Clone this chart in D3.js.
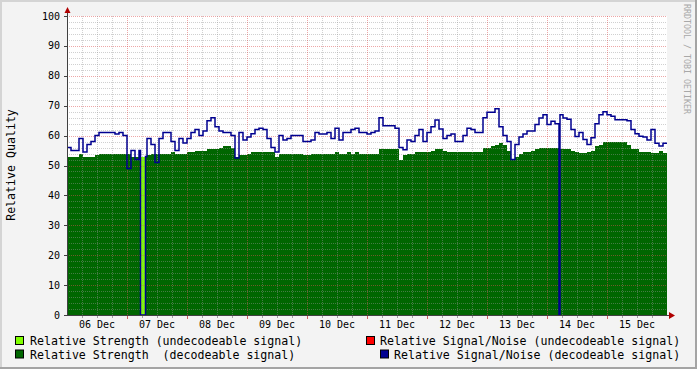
<!DOCTYPE html>
<html>
<head>
<meta charset="utf-8">
<script src="https://cdn.jsdelivr.net/npm/d3@7"></script>
<style>
  html, body { margin: 0; padding: 0; background: #f3f3f3; }
  svg text { font-family: "DejaVu Sans Mono", monospace; }
</style>
</head>
<body>
<svg id="chart"></svg>
<script>
// values, one value per 1.6 hour bin (Dec 6 00:00 -> Dec 16 00:00)
var binHours = 1.6;
var strength = [
  53, 53, 53, 54, 53, 53, 53, 53.5, 54, 54,
  54, 54, 54, 54, 54, 54, 53, 53, 53.5, 53,
  53.5, 54, 54, 54, 54, 54, 54.5, 54, 54, 54,
  54.5, 54.5, 55, 55, 55, 55.5, 55.5, 55.5, 56, 56.5,
  56.5, 56, 53, 53.5, 53.5, 54, 54.5, 54.5, 54.5, 54.5,
  54.5, 54.5, 53, 54, 54, 54, 54, 54, 54, 53.5,
  53.5, 54, 54, 54, 54, 54, 54, 54.5, 54, 54,
  54.5, 54, 54.5, 54, 54, 54, 54, 54, 55.5, 55.5,
  55.5, 55.5, 55.5, 52, 53.5, 54, 54, 54.5, 54.5, 54.5,
  54.5, 55, 55.5, 55.5, 55, 54.5, 54.5, 54.5, 54.5, 54.5,
  54.5, 54.5, 54.5, 54.5, 56, 56, 56.5, 57, 57.5, 57,
  55, 52, 53, 54, 54.5, 54.5, 55, 55.5, 55.8, 55.8,
  55.8, 55.8, 55.8, 55.5, 55.5, 55.5, 55, 54.5, 54.2, 54.2,
  54.5, 55, 56.5, 56.8, 58, 58, 58, 58, 58, 58,
  57, 55.5, 55.5, 54.6, 54.6, 54.5, 54.2, 54.2, 55, 54.2
];
var snr = [
  56, 55, 55, 59, 54.5, 57, 58, 60, 61, 61,
  61, 61, 60.5, 61, 60, 49, 55, 52, 55, 53,
  59, 57, 51, 59, 61, 61, 58, 55, 59, 57.5,
  59, 61, 62, 60, 61.5, 65, 66, 63, 61.5, 61,
  61, 60, 52.5, 61, 58.5, 59.5, 60.6, 62, 62.5, 62,
  59, 56, 54.5, 60, 58.5, 59, 60, 60, 60, 58,
  58, 58.5, 61, 60.5, 60.5, 61, 59, 62.5, 58.5, 61,
  61, 62, 62.5, 61, 61, 60.5, 61, 61.5, 66, 63.3,
  63.3, 63.3, 62.5, 56, 55.3, 58.5, 58, 60, 62, 58,
  61, 63, 65.2, 62.2, 59, 60, 60.5, 58, 58, 60,
  62.5, 62, 61, 61, 66, 67.8, 67.8, 69, 63, 60,
  58, 52, 57, 59.5, 60.5, 61.5, 61.5, 63.7, 65.9, 67,
  63.7, 64.8, 64, 67, 65.9, 65.5, 62, 59.7, 61, 58.7,
  57, 59.3, 64, 67, 68, 67, 66.5, 65.3, 65.3, 65.3,
  65, 62, 60.6, 59.8, 59.5, 58.5, 62, 57.4, 56.5, 57.4
];
// periods (hours from start) where the signal could not be decoded
var outages = [[29.4, 31.4]];
var weakStrength = [53];
// short dropouts of the decodeable signal/noise
var snrDrops = [[196.8, 197.2]];

var dayLabels = ["06 Dec", "07 Dec", "08 Dec", "09 Dec", "10 Dec",
                 "11 Dec", "12 Dec", "13 Dec", "14 Dec", "15 Dec"];
var yTicks = [0, 10, 20, 30, 40, 50, 60, 70, 80, 90, 100];
var legendItems = [
  {label: "Relative Strength (undecodeable signal)", color: "#80ff00"},
  {label: "Relative Signal/Noise (undecodeable signal)", color: "#ff0000"},
  {label: "Relative Strength  (decodeable signal)", color: "#006600"},
  {label: "Relative Signal/Noise (decodeable signal)", color: "#000090"}
];

var width = 697, height = 369;
var svg = d3.select("#chart").attr("width", width).attr("height", height);

var totalHours = strength.length * binHours;
var x = d3.scaleLinear().domain([0, totalHours]).range([67, 667]);
var y = d3.scaleLinear().domain([0, 100]).range([315, 16]);

// frame
svg.append("rect").attr("width", width).attr("height", height).attr("fill", "#f3f3f3");
svg.append("rect").attr("x", 0).attr("y", 0).attr("width", width).attr("height", 2).attr("fill", "#d4d4d4");
svg.append("rect").attr("x", 0).attr("y", 0).attr("width", 2).attr("height", height).attr("fill", "#d4d4d4");
svg.append("rect").attr("x", 0).attr("y", height - 2).attr("width", width).attr("height", 2).attr("fill", "#a4a4a4");
svg.append("rect").attr("x", width - 2).attr("y", 0).attr("width", 2).attr("height", height).attr("fill", "#a4a4a4");

// plot background
svg.append("rect")
  .attr("x", x(0)).attr("y", y(100))
  .attr("width", x(totalHours) - x(0)).attr("height", y(0) - y(100))
  .attr("fill", "#ffffff");

function inRanges(t, ranges) {
  return ranges.some(function(r) { return t >= r[0] - 1e-9 && t < r[1] - 1e-9; });
}

// build step points from binned values, forcing 0 inside the given ranges
function stepPoints(values, zeroRanges) {
  var times = d3.range(values.length + 1).map(function(i) { return i * binHours; });
  zeroRanges.forEach(function(r) { times.push(r[0], r[1]); });
  times = Array.from(new Set(times.map(function(t) { return +t.toFixed(4); }))).sort(d3.ascending);
  var pts = times.slice(0, -1).map(function(t) {
    var i = Math.min(values.length - 1, Math.floor(t / binHours + 1e-9));
    return [t, inRanges(t, zeroRanges) ? 0 : values[i]];
  });
  pts.push([totalHours, pts[pts.length - 1][1]]);
  return pts;
}

var area = d3.area()
  .curve(d3.curveStepAfter)
  .x(function(d) { return x(d[0]); })
  .y0(y(0))
  .y1(function(d) { return y(d[1]); });

var line = d3.line()
  .curve(d3.curveStepAfter)
  .x(function(d) { return x(d[0]); })
  .y(function(d) { return y(d[1]); });

// decodeable strength
svg.append("path")
  .attr("d", area(stepPoints(strength, outages)))
  .attr("fill", "#006600")
  .attr("shape-rendering", "crispEdges");

// undecodeable strength
outages.forEach(function(r, i) {
  svg.append("path")
    .attr("d", area([[r[0], weakStrength[i]], [r[1], weakStrength[i]]]))
    .attr("fill", "#80ff00")
    .attr("shape-rendering", "crispEdges");
});

// grid (drawn over the data like rrdtool does)
var grid = svg.append("g");
d3.range(0, 101, 2).forEach(function(v) {
  grid.append("line")
    .attr("x1", x(0)).attr("x2", x(totalHours))
    .attr("y1", Math.round(y(v)) + 0.5).attr("y2", Math.round(y(v)) + 0.5)
    .attr("stroke", v % 10 == 0 ? "rgba(220,80,80,0.5)" : "rgba(150,150,150,0.45)")
    .attr("stroke-dasharray", "1,1");
});
d3.range(6, totalHours, 6).forEach(function(h) {
  grid.append("line")
    .attr("x1", Math.round(x(h)) + 0.5).attr("x2", Math.round(x(h)) + 0.5)
    .attr("y1", y(100)).attr("y2", y(0))
    .attr("stroke", h % 24 == 0 ? "rgba(220,80,80,0.5)" : "rgba(150,150,150,0.45)")
    .attr("stroke-dasharray", "1,1");
});

// signal / noise line
svg.append("path")
  .attr("d", line(stepPoints(snr, outages.concat(snrDrops))))
  .attr("fill", "none")
  .attr("stroke", "#000090")
  .attr("stroke-width", 1.5);

// axes
svg.append("line")
  .attr("x1", 67.5).attr("x2", 67.5).attr("y1", y(0) + 1).attr("y2", 12)
  .attr("stroke", "#404040");
svg.append("line")
  .attr("x1", 64).attr("x2", 670).attr("y1", y(0) + 0.5).attr("y2", y(0) + 0.5)
  .attr("stroke", "#404040");
svg.append("path").attr("d", "M64.5,13 L67.5,7 L70.5,13 Z").attr("fill", "#b00000");
svg.append("path").attr("d", "M669,312 L675,315.5 L669,319 Z").attr("fill", "#b00000");

// y ticks and labels
yTicks.forEach(function(v) {
  svg.append("line")
    .attr("x1", 64).attr("x2", 67)
    .attr("y1", Math.round(y(v)) + 0.5).attr("y2", Math.round(y(v)) + 0.5)
    .attr("stroke", "#404040");
  svg.append("text")
    .attr("x", 60).attr("y", y(v) + 3.5)
    .attr("text-anchor", "end")
    .attr("font-size", "10px")
    .attr("fill", "#000")
    .text(v);
});

// x ticks and labels
d3.range(6, totalHours, 6).forEach(function(h) {
  svg.append("line")
    .attr("x1", Math.round(x(h)) + 0.5).attr("x2", Math.round(x(h)) + 0.5)
    .attr("y1", y(0) + 1).attr("y2", y(0) + (h % 24 == 0 ? 4 : 3))
    .attr("stroke", h % 24 == 0 ? "#d06060" : "#a0a0a0");
});
dayLabels.forEach(function(d, i) {
  svg.append("text")
    .attr("x", x(i * 24 + 12)).attr("y", 328)
    .attr("text-anchor", "middle")
    .attr("font-size", "10px")
    .attr("fill", "#000")
    .text(d);
});

// axis title
svg.append("text")
  .attr("transform", "translate(15,165) rotate(-90)")
  .attr("text-anchor", "middle")
  .attr("font-size", "11.6px")
  .attr("fill", "#000")
  .text("Relative Quality");

// watermark
svg.append("text")
  .attr("transform", "translate(684,4) rotate(90)")
  .attr("font-size", "8.3px")
  .attr("fill", "#a8a8a8")
  .text("RRDTOOL / TOBI OETIKER");

// legend
var legendPos = [[15, 345, 30], [366, 345, 380], [15, 358.5, 30], [380, 358.5, 394]];
legendItems.forEach(function(item, i) {
  var p = legendPos[i];
  svg.append("rect")
    .attr("x", p[0] + 0.5).attr("y", p[1] - 8.5)
    .attr("width", 8).attr("height", 8)
    .attr("fill", item.color)
    .attr("stroke", "#000");
  svg.append("text")
    .attr("x", p[2]).attr("y", p[1])
    .attr("font-size", "11.6px")
    .attr("fill", "#000")
    .attr("xml:space", "preserve")
    .style("white-space", "pre")
    .text(item.label);
});
</script>
</body>
</html>
